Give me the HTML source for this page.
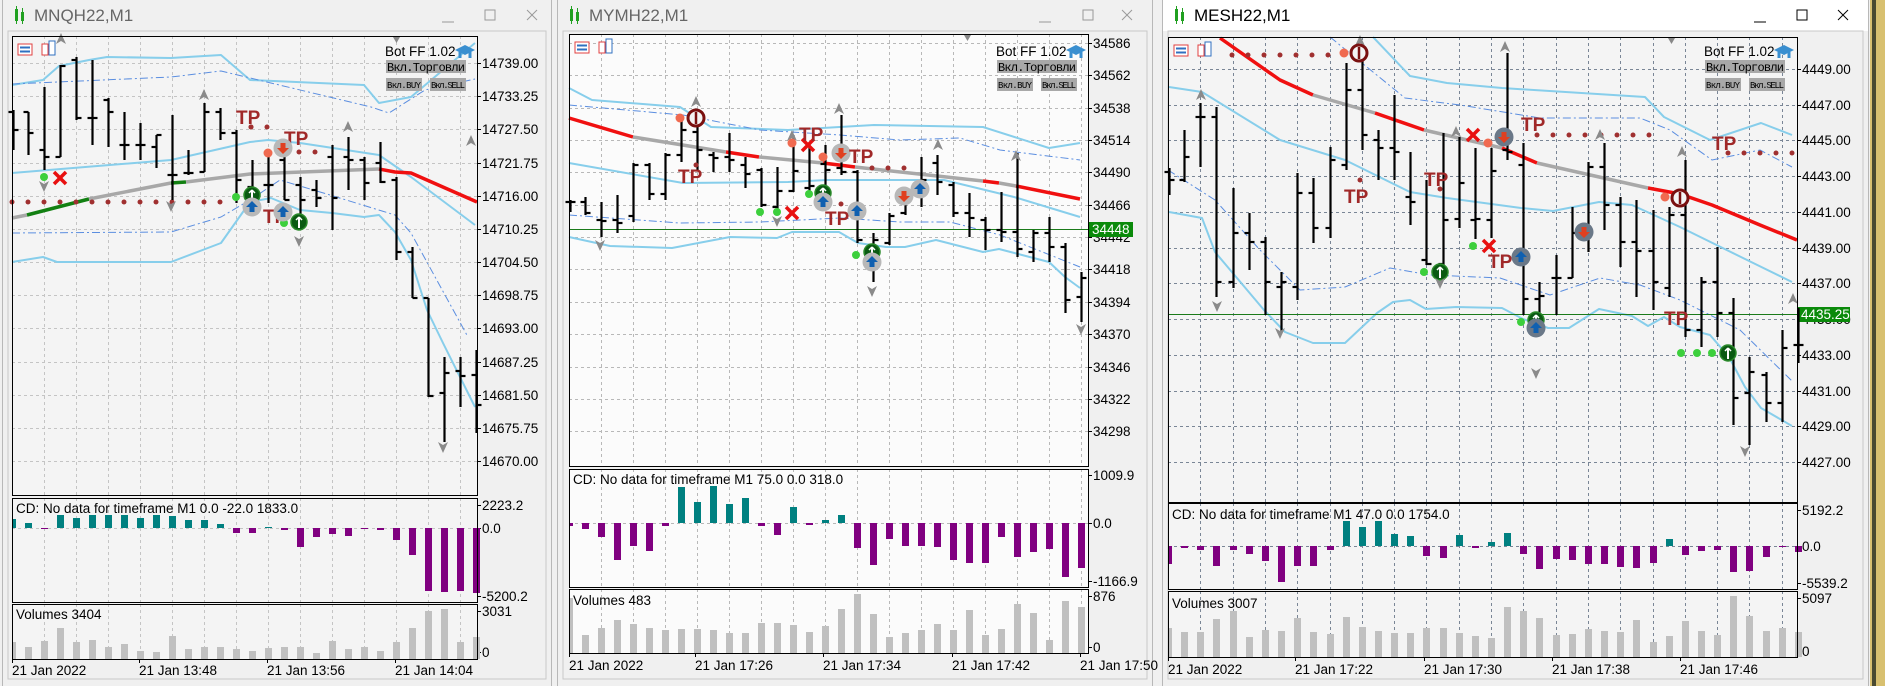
<!DOCTYPE html>
<html><head><meta charset="utf-8">
<style>
html,body{margin:0;padding:0;background:#f0f0f0;}
svg{display:block;font-family:"Liberation Sans",sans-serif;}
</style></head>
<body>
<svg id="s" width="1885" height="686" xmlns="http://www.w3.org/2000/svg"></svg>
<script>
var o=[];
function L(x1,y1,x2,y2,c,w,d){o.push('<line x1="'+x1+'" y1="'+y1+'" x2="'+x2+'" y2="'+y2+'" stroke="'+c+'" stroke-width="'+(w||1)+'"'+(d?' stroke-dasharray="'+d+'"':'')+'/>');}
function P(pts,c,w,d){o.push('<polyline fill="none" points="'+pts.map(function(p){return p.join(',')}).join(' ')+'" stroke="'+c+'" stroke-width="'+(w||1)+'"'+(d?' stroke-dasharray="'+d+'"':'')+' stroke-linejoin="round"/>');}
function R(x,y,w,h,f,s){o.push('<rect x="'+x+'" y="'+y+'" width="'+w+'" height="'+h+'" fill="'+f+'"'+(s?' stroke="'+s+'"':'')+'/>');}
function T(x,y,s,sz,f,extra){o.push('<text x="'+x+'" y="'+y+'" font-size="'+sz+'" fill="'+(f||'#000')+'" '+(extra||'')+'>'+s+'</text>');}
function C(x,y,r,f,s,sw){o.push('<circle cx="'+x+'" cy="'+y+'" r="'+r+'" fill="'+f+'"'+(s?' stroke="'+s+'" stroke-width="'+(sw||1)+'"':'')+'/>');}
function mk(t,x,y,dark){
 if(t=='dot')C(x,y,4,'#3ccf3c');
 else if(t=='or')C(x,y,4.5,'#f06a50');
 else if(t=='bd')C(x,y,2.5,'#a03030');
 else if(t=='X'){L(x-6,y-6,x+6,y+6,'#e81010',3.5);L(x+6,y-6,x-6,y+6,'#e81010',3.5);}
 else if(t=='TP')T(x-9,y+8,'TP',19,'#a02828','font-weight="bold" font-family="Liberation Sans Narrow,Liberation Sans,sans-serif"');
 else if(t=='cu'||t=='cd'){C(x,y,9.5,dark?'#6a7888':'#b8b8b8');var col=t=='cu'?'#1060b0':'#e04020';
   if(t=='cu')o.push('<polygon points="'+(x)+','+(y-6)+' '+(x+6)+','+y+' '+(x+2.5)+','+y+' '+(x+2.5)+','+(y+5)+' '+(x-2.5)+','+(y+5)+' '+(x-2.5)+','+y+' '+(x-6)+','+y+'" fill="'+col+'"/>');
   else o.push('<polygon points="'+(x)+','+(y+6)+' '+(x+6)+','+y+' '+(x+2.5)+','+y+' '+(x+2.5)+','+(y-5)+' '+(x-2.5)+','+(y-5)+' '+(x-2.5)+','+y+' '+(x-6)+','+y+'" fill="'+col+'"/>');}
 else if(t=='g'){C(x,y,8,'#0a5a12','#2a8a2a',1.5);L(x,y-5,x,y+6,'#fff',2);L(x-3,y-2,x,y-5,'#fff',1.5);L(x+3,y-2,x,y-5,'#fff',1.5);}
 else if(t=='r'){C(x,y,8,'#f4f4f4','#7a1010',3);L(x,y-6,x,y+6,'#7a1010',2.5);}
 else if(t=='au')o.push('<polygon points="'+x+','+(y-7)+' '+(x+5)+','+(y+4)+' '+x+','+(y+1)+' '+(x-5)+','+(y+4)+'" fill="#8a8a8a"/>');
 else if(t=='ad')o.push('<polygon points="'+x+','+(y+7)+' '+(x+5)+','+(y-4)+' '+x+','+(y-1)+' '+(x-5)+','+(y-4)+'" fill="#8a8a8a"/>');
}
function chart(c){
 var x0=c.px0,x1=c.px1;
 // window chrome
 R(c.wx0,0,c.wx1-c.wx0,686,'#f0f0f0');
 R(c.wx0,0,c.wx1-c.wx0,31,c.active?'#ffffff':'#f0f0f0');
 L(c.wx0+0.5,0,c.wx0+0.5,686,'#b8b8b8');L(c.wx1-0.5,0,c.wx1-0.5,686,'#b8b8b8');
 R(c.wx0+6,31,c.wx1-c.wx0-12,648,'#f0f0f0','#c8c8c8');
 // title icon
 R(c.wx0+13,9,3,12,'#20a020');R(c.wx0+19,12,3,9,'#20a020');L(c.wx0+14.5,6,c.wx0+14.5,24,'#20a020',1);L(c.wx0+20.5,8,c.wx0+20.5,24,'#20a020',1);
 T(c.wx0+32,21,c.title,17,c.active?'#000':'#666');
 var bc=c.active?'#000':'#999';
 L(c.bx[0]-6,22,c.bx[0]+6,22,bc,1);
 R(c.bx[1]-5,10,10,10,'none',bc);
 L(c.bx[2]-5,10,c.bx[2]+5,20,bc,1);L(c.bx[2]+5,10,c.bx[2]-5,20,bc,1);
 // panel backgrounds
 R(x0,c.top,x1-x0,c.bot-c.top,c.bg);
 R(x0,c.cd[0],x1-x0,c.cd[1]-c.cd[0],c.bg);
 R(x0,c.vo[0],x1-x0,c.vo[1]-c.vo[0],c.bg);
 var gc=c.gc;
 // vertical grid
 for(var i=2;i<c.n;i+=2){var gx=Math.round(x0+c.dx*i)+0.5;
  [[c.top,c.bot],[c.cd[0],c.cd[1]],[c.vo[0],c.vo[1]]].forEach(function(r){L(gx,r[0],gx,r[1],gc,1,'3,3');});}
 // horizontal grid + price labels
 c.pl.forEach(function(p){L(x0,p[0]+0.5,x1,p[0]+0.5,gc,1,'3,3');L(x1,p[0]+0.5,x1+4,p[0]+0.5,'#000');T(x1+5,p[0]+5,p[1],13.5,'#000');});
 L(x0,c.cdz+0.5,x1,c.cdz+0.5,gc,1,'3,3');
 // sub labels
 c.cdl.forEach(function(p){L(x1,p[0]+0.5,x1+4,p[0]+0.5,'#000');T(x1+5,p[0]+5,p[1],13.5);});
 c.vol.forEach(function(p){L(x1,p[0]+0.5,x1+4,p[0]+0.5,'#000');T(x1+5,p[0]+5,p[1],13.5);});
 // time labels
 c.tl.forEach(function(p){L(p[0]+0.5,c.vo[1],p[0]+0.5,c.vo[1]+4,'#000');T(p[0],c.ty,p[1],13.5);});
 // bands
 c.lines.forEach(function(l){P(l[0],l[1],l[2],l[3]);});
 c.ma.forEach(function(s){P(s[1],s[0],3.5);});
 // dotted lines
 (c.dots||[]).forEach(function(d){for(var x=d[0];x<=d[1];x+=16)mk('bd',x,d[2]);});
 if(c.hl){L(x0,c.hl[0]+0.5,x1,c.hl[0]+0.5,'#1a7a1a',1);R(x1+1,c.hl[0]-7,c.hl[2],15,'#0a8a0a');T(x1+4,c.hl[0]+5,c.hl[1],13.5,'#fff');}
 // bars
 c.bars.forEach(function(b,i){var x=Math.round(x0+c.dx*i)+0.5;if(i==0)x+=1;
  L(x,b[0],x,b[1],'#000',2.2);L(x-5,b[2],x,b[2],'#000',2.2);L(x,b[3],x+5,b[3],'#000',2.2);});
 // markers
 c.mk.forEach(function(m){mk(m[0],m[1],m[2],c.dark);});
 // cd hist
 c.cdv.forEach(function(v,i){var x=Math.round(x0+c.dx*i)-3;if(i==0)x=x0;var w=i==0?4:7;
  if(v<c.cdz)R(x,v,w,c.cdz-v,'#008080');else R(x,c.cdz,w,Math.max(v-c.cdz,1),'#800080');});
 c.vv.forEach(function(v,i){var x=Math.round(x0+c.dx*i)-3;if(i==0)x=x0;var w=i==0?4:7;R(x,v,w,c.vo[1]-v,'#c0c0c0');});
 // frames
 [[c.top,c.bot],[c.cd[0],c.cd[1]],[c.vo[0],c.vo[1]]].forEach(function(r){R(x0+0.5,r[0]+0.5,x1-x0,r[1]-r[0],'none','#000');});
 T(x0+4,c.cdt,'CD: No data for timeframe M1 '+c.cdtxt,13.5);
 T(x0+4,c.vot,'Volumes '+c.vtxt,13.5);
 // bot panel
 T(c.bot0,56,'Bot FF 1.02',13.5);
 o.push('<polygon points="'+(c.bot0+70)+','+50+' '+(c.bot0+80)+','+45+' '+(c.bot0+90)+','+50+' '+(c.bot0+80)+','+55+'" fill="#3a8fd0"/>');
 L(c.bot0+75,52,c.bot0+75,58,'#3a8fd0',3);L(c.bot0+85,52,c.bot0+85,58,'#3a8fd0',3);
 R(c.bot0+1,60,80,13,'#a8a8a8');T(c.bot0+2,71,'Вкл.Торговли',12,'#000','font-family="Liberation Mono,monospace" textLength="78"');
 R(c.bot0+1,78,36,13,'#a8a8a8');T(c.bot0+2,88,'Вкл.BUY',9,'#000','font-family="Liberation Mono,monospace" textLength="34"');
 R(c.bot0+45,78,36,13,'#a8a8a8');T(c.bot0+46,88,'Вкл.SELL',9,'#000','font-family="Liberation Mono,monospace" textLength="34"');
 // top-left icons
 R(x0+6,c.top+8,14,11,'#fff','#e04040');L(x0+8,c.top+11.5,x0+18,c.top+11.5,'#3070c0',2);L(x0+8,c.top+15.5,x0+18,c.top+15.5,'#3070c0',2);
 R(x0+30,c.top+8,6,11,'#fff','#e04040');R(x0+37,c.top+5,6,14,'#fff','#3070c0');
 o.push('<polygon points="'+(c.tri)+','+(c.top+1)+' '+(c.tri+7)+','+(c.top+1)+' '+(c.tri+3.5)+','+(c.top+7)+'" fill="#888"/>');
}
function px(a,f,b){return a.map(function(p){return [Math.round(b+p[0]/f),p[1]];});}

// ---------- CHART 1 ----------
var pl1=[];var v1=['14739.00','14733.25','14727.50','14721.75','14716.00','14710.25','14704.50','14698.75','14693.00','14687.25','14681.50','14675.75','14670.00'];
v1.forEach(function(s,k){pl1.push([Math.round(63+33.17*k),s]);});
chart({wx0:2,wx1:552,title:'MNQH22,M1',bx:[448,490,532],px0:12,px1:477,top:36,bot:495,n:30,dx:16,bg:'#f4f4f4',gc:'#c4c4c4',
 pl:pl1,cd:[498,602],cdz:528,vo:[604,659],cdl:[[505,'2223.2'],[528,'0.0'],[596,'-5200.2']],vol:[[611,'3031'],[652,'0']],
 tl:[[12,'21 Jan 2022'],[139,'21 Jan 13:48'],[267,'21 Jan 13:56'],[395,'21 Jan 14:04']],ty:675,
 cdt:513,cdtxt:'0.0 -22.0 1833.0',vot:619,vtxt:'3404',bot0:385,tri:393,
 lines:[
  [[[12,85],[43,80],[59,66],[89,60],[107,57],[171,58],[221,55],[250,80],[364,85],[379,103],[411,97],[475,43]],'#87ceeb',2],
  [[[12,173],[171,160],[250,142],[268,140],[300,143],[379,155],[411,177],[475,225]],'#87ceeb',2],
  [[[12,262],[43,257],[57,262],[171,262],[221,243],[250,202],[271,198],[300,210],[332,213],[364,217],[379,215],[395,232],[411,260],[427,310],[443,343],[475,407]],'#87ceeb',2],
  [[[12,84],[171,77],[221,71],[371,107],[389,113],[425,90],[475,79]],'#5b8ee0',1,'8,3,2,3'],
  [[[12,233],[171,232],[221,217],[250,200],[280,180],[330,195],[395,215],[411,233],[468,337]],'#5b8ee0',1,'8,3,2,3']],
 ma:[['#a8a8a8',[[12,218],[27,215]]],['#128012',[[27,215],[89,199]]],['#a8a8a8',[[89,199],[171,183]]],['#128012',[[171,183],[186,182]]],['#a8a8a8',[[186,182],[250,174],[379,169]]],['#f01010',[[379,169],[395,172],[411,173],[477,202]]]],
 dots:[[12,220,202],[251,267,127],[299,315,152]],
 bars:[[110,150,112,130],[112,155,112,133],[87,170,150,157],[65,157,157,66],[57,120,60,118],[60,145,118,118],[98,147,100,112],[112,160,145,145],[123,160,145,145],[135,168,147,135],[115,200,175,175],[150,175,173,173],[103,172,172,112],[108,140,112,133],[130,203,133,180],[160,200,187,195],[155,203,185,185],[148,200,160,200],[177,230,185,200],[180,207,190,198],[145,230,157,198],[137,190,157,160],[157,200,160,183],[142,183,163,182],[177,260,180,252],[247,298,252,298],[298,397,298,396],[357,442,393,373],[357,407,371,376],[350,433,375,405]],
 mk:[['dot',44,177],['X',60,178],['ad',44,185],['au',61,40],['au',204,96],['ad',171,205],['TP',245,116],['TP',293,137],['TP',272,215],['bd',251,127],['or',268,153],['cd',283,148],['dot',236,197],['g',252,195],['cu',252,207],['dot',284,223],['cu',283,212],['g',299,222],['ad',299,240],['au',348,128],['au',471,142],['ad',443,446]],
 cdv:[519,523,529,515,518,515,515,515,518,515,516,520,520,524,533,533,527,530,547,537,534,536,529,530,540,555,591,592,591,593],
 vv:[642,647,641,628,642,640,647,644,651,652,636,649,647,647,649,651,648,647,647,653,641,649,647,651,642,628,611,609,642,637]});

// ---------- CHART 2 ----------
var pl2=[];var v2=['34586','34562','34538','34514','34490','34466','34442','34418','34394','34370','34346','34322','34298'];
v2.forEach(function(s,k){pl2.push([Math.round(43+32.35*k),s]);});
chart({wx0:557,wx1:1153,title:'MYMH22,M1',bx:[1045,1088,1127],px0:569,px1:1088,top:34,bot:466,n:33,dx:16,bg:'#fbfbfb',gc:'#b8b8b8',
 pl:pl2,cd:[469,587],cdz:523,vo:[589,653],cdl:[[475,'1009.9'],[523,'0.0'],[581,'-1166.9']],vol:[[596,'876'],[647,'0']],
 tl:[[569,'21 Jan 2022'],[695,'21 Jan 17:26'],[823,'21 Jan 17:34'],[952,'21 Jan 17:42'],[1080,'21 Jan 17:50']],ty:670,
 cdt:484,cdtxt:'75.0 0.0 318.0',vot:605,vtxt:'483',bot0:996,tri:964,hl:[229,'34448',44],
 lines:[
  [[[569,88],[592,100],[680,107],[711,127],[788,130],[874,125],[983,127],[1049,148],[1080,143]],'#87ceeb',2],
  [[[569,163],[683,183],[788,182],[827,180],[944,180],[1014,197],[1080,217]],'#87ceeb',2],
  [[[569,237],[610,246],[672,248],[730,237],[777,238],[792,232],[839,232],[858,243],[886,247],[905,247],[936,240],[983,252],[999,249],[1049,262],[1065,277],[1080,288]],'#87ceeb',2],
  [[[569,105],[683,115],[760,130],[840,135],[900,140],[960,138],[1000,150],[1080,160]],'#5b8ee0',1,'8,3,2,3'],
  [[[569,215],[680,223],[760,222],[840,218],[900,222],[950,222],[1000,235],[1080,267]],'#5b8ee0',1,'8,3,2,3']],
 ma:[['#f01010',[[569,118],[633,137]]],['#a8a8a8',[[633,137],[726,152]]],['#f01010',[[726,152],[759,157]]],['#a8a8a8',[[759,157],[823,163]]],['#f01010',[[823,163],[855,167]]],['#a8a8a8',[[855,167],[983,181]]],['#f01010',[[983,181],[999,183]]],['#a8a8a8',[[999,183],[1016,186]]],['#f01010',[[1016,186],[1080,199]]]],
 dots:[[872,905,168]],
 bars:[[200,212,202,202],[197,215,202,213],[202,237,220,221],[195,233,220,223],[163,222,216,165],[163,200,165,194],[153,200,194,155],[120,162,155,130],[118,170,132,150],[152,172,155,158],[133,172,157,160],[157,188,165,174],[168,207,170,205],[167,213,207,191],[135,192,191,171],[143,193,188,186],[145,200,164,170],[115,175,168,172],[170,243,172,240],[233,282,245,240],[213,245,243,216],[195,215,213,198],[157,207,195,180],[155,195,163,182],[182,217,185,213],[193,237,213,218],[217,250,220,230],[192,242,230,232],[153,257,232,249],[230,262,252,233],[217,262,233,247],[243,313,247,300],[272,322,297,278]],
 mk:[['au',696,103],['or',680,118],['r',696,118],['TP',687,175],['bd',696,165],['au',792,137],['au',839,110],['au',938,146],['au',1016,157],['or',792,143],['X',808,145],['TP',808,133],['or',823,157],['cd',841,153],['TP',858,155],['dot',760,212],['dot',777,212],['ad',777,220],['X',792,213],['dot',809,194],['g',823,193],['cu',823,202],['TP',834,217],['bd',841,204],['cu',857,211],['cd',904,196],['cu',920,189],['ad',600,244],['dot',856,255],['g',872,252],['cu',872,262],['ad',872,290],['ad',1081,328]],
 cdv:[526,529,537,560,546,551,526,487,502,486,504,498,526,535,507,525,520,515,548,565,539,546,546,547,560,563,563,537,557,552,549,577,568],
 vv:[598,635,628,620,624,628,630,629,629,630,633,633,623,623,625,632,626,609,594,614,637,633,630,624,630,610,635,629,604,613,640,601,607]});

// ---------- CHART 3 ----------
var pl3=[];var v3=['4449.00','4447.00','4445.00','4443.00','4441.00','4439.00','4437.00','4435.00','4433.00','4431.00','4429.00','4427.00'];
v3.forEach(function(s,k){pl3.push([Math.round(69+35.73*k),s]);});
function z(a){return a.map(function(p){return [Math.round(1160+p[0]/2.163),p[1]];});}
chart({wx0:1162,wx1:1869,active:1,dark:1,title:'MESH22,M1',bx:[1760,1802,1843],px0:1168,px1:1797,top:37,bot:502,n:40,dx:16.15,bg:'#f4f4f4',gc:'#7a8696',
 pl:pl3,cd:[503,589],cdz:546,vo:[591,657],cdl:[[510,'5192.2'],[546,'0.0'],[583,'-5539.2']],vol:[[598,'5097'],[651,'0']],
 tl:[[1168,'21 Jan 2022'],[1295,'21 Jan 17:22'],[1424,'21 Jan 17:30'],[1552,'21 Jan 17:38'],[1680,'21 Jan 17:46']],ty:674,
 cdt:519,cdtxt:'47.0 0.0 1754.0',vot:608,vtxt:'3007',bot0:1704,tri:1668,hl:[314,'4435.25',52],
 lines:[
  [[[1373,37],[1410,76],[1447,83],[1502,88],[1645,97],[1664,117],[1710,140],[1761,123],[1792,135]],'#87ceeb',2],
  [[[1169,87],[1202,92],[1280,140],[1345,160],[1410,192],[1447,198],[1521,208],[1553,211],[1599,202],[1632,205],[1680,227],[1743,258],[1792,282]],'#87ceeb',2],
  [z([[20,212],[90,218],[120,252],[225,310],[270,332],[330,343],[400,343],[470,313],[505,302],[540,300],[575,309],[640,307],[740,308],[785,319],[840,328],[885,328],[950,309],[1020,316],[1055,326],[1090,317],[1125,327],[1190,335],[1230,357],[1265,387],[1300,408],[1368,426]]),'#87ceeb',2],
  [[[1330,37],[1405,98],[1460,105],[1540,118],[1640,118],[1670,130],[1712,160],[1760,150],[1792,167]],'#5b8ee0',1,'8,3,2,3'],
  [[[1168,170],[1215,200],[1260,250],[1300,290],[1345,287],[1390,268],[1430,275],[1500,278],[1550,295],[1600,278],[1640,285],[1680,300],[1740,330],[1792,381]],'#5b8ee0',1,'8,3,2,3']],
 ma:[['#f01010',[[1220,38],[1280,80],[1313,95]]],['#a8a8a8',[[1313,95],[1375,113]]],['#f01010',[[1375,113],[1424,130]]],['#a8a8a8',[[1424,130],[1502,148]]],['#f01010',[[1502,148],[1537,163]]],['#a8a8a8',[[1537,163],[1648,188]]],['#f01010',[[1648,188],[1680,194],[1712,205],[1760,225],[1797,240]]]],
 dots:[[1232,1343,55],[1537,1664,135],[1728,1792,153]],
 bars:[[168,195,172,180],[130,182,180,157],[103,167,117,117],[107,297,117,282],[188,288,282,233],[213,270,233,242],[237,315,242,282],[272,332,287,282],[173,300,287,193],[178,243,193,228],[147,238,228,160],[63,170,165,90],[47,150,90,135],[130,180,140,148],[95,180,148,152],[152,225,197,202],[180,265,260,264],[133,280,264,220],[137,228,219,183],[148,239,220,219],[148,238,220,171],[53,160,150,152],[143,315,165,299],[282,315,299,296],[255,315,278,278],[207,278,278,233],[162,252,233,167],[143,230,167,205],[197,267,205,242],[200,297,242,251],[210,310,251,282],[207,297,288,215],[160,337,215,330],[277,347,330,282],[247,337,282,313],[298,425,313,398],[357,445,393,372],[372,422,375,403],[330,422,403,348],[308,363,345,345]],
 mk:[['au',1201,96],['au',1360,42],['au',1505,48],['au',1600,136],['au',1682,153],['au',1793,300],['or',1344,53],['r',1359,53],['TP',1353,195],['bd',1360,180],['TP',1433,178],['bd',1440,189],['au',1456,133],['X',1473,135],['or',1488,143],['cd',1504,137],['TP',1530,123],['or',1665,197],['r',1680,198],['TP',1721,142],['dot',1473,246],['X',1489,246],['TP',1497,260],['cu',1521,257],['dot',1424,272],['g',1440,272],['ad',1440,282],['ad',1217,305],['ad',1280,332],['cd',1584,232],['dot',1521,322],['g',1536,320],['cu',1536,328],['ad',1536,372],['TP',1673,317],['dot',1681,353],['dot',1697,353],['dot',1712,353],['g',1728,353],['ad',1745,450]],
 cdv:[564,548,550,566,550,554,561,582,566,566,550,521,527,521,534,536,556,558,535,548,542,533,554,569,559,560,564,564,567,568,563,539,555,551,550,572,571,557,547,552],
 vv:[628,632,632,619,611,637,630,631,618,632,634,617,627,631,633,633,628,628,633,636,638,607,611,618,635,634,629,631,632,620,642,636,621,631,635,596,616,631,628,632]});

// right edge strip
R(1870,0,15,686,'#d8c070');R(1872,0,4,686,'#4a4a30');
document.getElementById('s').innerHTML=o.join('');
</script>
</body></html>
